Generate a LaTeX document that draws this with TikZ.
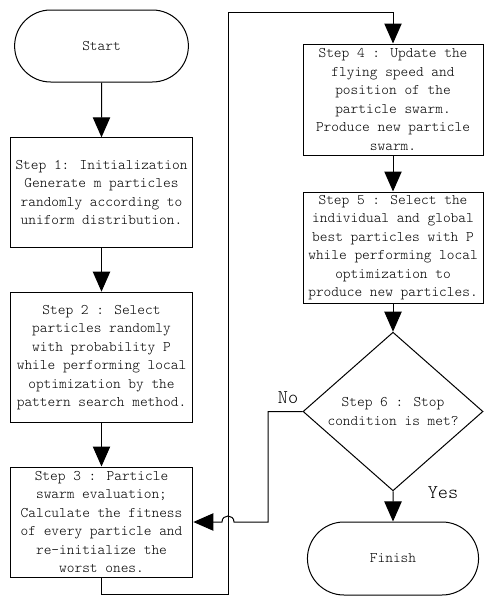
\documentclass[tikz,border=0pt]{standalone}
\usetikzlibrary{positioning,arrows.meta,shapes.misc,shapes.geometric}

\begin{document}
\begin{tikzpicture}[x=0.75pt,y=-0.75pt,line width=0.75pt,
  font=\ttfamily\fontseries{l}\fontsize{11}{13.9}\selectfont,
  arr/.style={-{Triangle[length=15pt,width=13pt]}},
  term/.style={draw,rounded rectangle,minimum height=54pt},
  proc/.style={draw,align=center,inner sep=0pt},
  dec/.style={draw,diamond,align=center,inner sep=0pt,minimum width=135pt,minimum height=82pt},
  lab/.style={font=\ttfamily\fontseries{l}\fontsize{14.5}{17}\selectfont}]
\useasboundingbox (0,0) rectangle (484,596);
\node[term,minimum width=137pt] (start) at (101.5,46) {Start};
\node[proc,minimum width=137pt,minimum height=82pt] (s1) at (101.5,192.5) {Step 1: Initialization\\Generate m particles\\randomly according to\\uniform distribution.};
\node[proc,minimum width=137pt,minimum height=98pt] (s2) at (101.5,357.5) {Step 2 : Select\\particles randomly\\with probability P\\while performing local\\optimization by the\\pattern search method.};
\node[proc,minimum width=137pt,minimum height=82.5pt] (s3) at (101.5,522) {Step 3 : Particle\\swarm evaluation;\\Calculate the fitness\\of every particle and\\re-initialize the\\worst ones.};
\node[proc,minimum width=135pt,minimum height=83.25pt] (s4) at (393,99.5) {Step 4 : Update the\\flying speed and\\position of the\\particle swarm.\\Produce new particle\\swarm.};
\node[proc,minimum width=135pt,minimum height=83.25pt] (s5) at (393,247.5) {Step 5 : Select the\\individual and global\\best particles with P\\while performing local\\optimization to\\produce new particles.};
\node[dec] (d6) at (393,411.5) {Step 6 : Stop\\condition is met?};
\node[term,minimum width=135pt,minimum height=54.75pt] (finish) at (393,558.5) {Finish};
\node[lab] (no) at (288,398) {No};
\node[lab] (yes) at (443,493) {Yes};
\draw[arr] (start) -- (s1);
\draw[arr] (s1) -- (s2);
\draw[arr] (s2) -- (s3);
\draw[arr] (s3.south) -- (101.5,594) -| (228,12) -| (s4.north);
\draw[arr] (s4) -- (s5);
\draw[arr] (s5) -- (d6);
\draw[arr] (d6) -- (finish);
\draw[arr] (d6.west) -- (268,411.5) -- (268,522) -- (234,522) .. controls (234,514) and (222,514) .. (222,522) -- (s3.east);
\end{tikzpicture}
\end{document}
